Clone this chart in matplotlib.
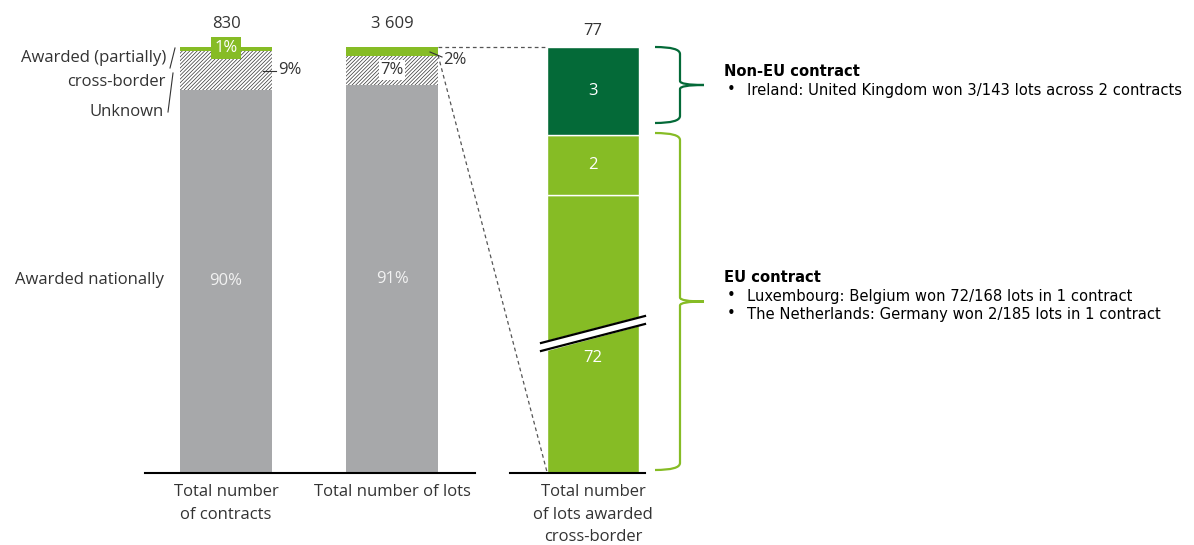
import numpy as np
import matplotlib.pyplot as plt
import matplotlib.transforms as mtransforms
from matplotlib.path import Path
from matplotlib.patches import PathPatch

# data
totals = ["830", "3 609"]
national = [90, 91]
unknown = [9, 7]
cross = [1, 2]
xb_values = [72, 2, 3]          # lots awarded cross-border, bottom to top
xb_total = "77"
xlabels = ["Total number\nof contracts", "Total number of lots"]
xlabel3 = "Total number\nof lots awarded\ncross-border"

GRAY = "#A7A8AA"
LGREEN = "#86BC25"
DGREEN = "#046A38"
TXT = "#333333"
FS = 12

W, H = 1194, 545
plt.rcParams["font.family"] = ["Open Sans", "DejaVu Sans"]
plt.rcParams["hatch.linewidth"] = 0.5
fig = plt.figure(figsize=(W / 100, H / 100), dpi=100)

# pixel coords, y going down
pix = mtransforms.Affine2D().scale(1 / W, -1 / H).translate(0, 1) + fig.transFigure


def axrect(x0, x1, ytop, ybot):
    return [x0 / W, (H - ybot) / H, (x1 - x0) / W, (ybot - ytop) / H]


# left panel: contracts and lots (percent)
ax1 = fig.add_axes(axrect(145, 475, 47, 473))
x = np.array([0, 1])
bw = 0.554
ax1.bar(x, national, bw, color=GRAY, linewidth=0)
ax1.bar(x, unknown, bw, bottom=national, color="white", edgecolor="#333333",
        linewidth=0, hatch="/////////")
ax1.bar(x, cross, bw, bottom=np.add(national, unknown), color=LGREEN, linewidth=0)
ax1.set_xlim(-0.488, 1.5)
ax1.set_ylim(0, 100)
ax1.axis("off")

for i in range(2):
    ax1.text(x[i], national[i] / 2, f"{national[i]}%", ha="center", va="center",
             color="#F2F2F2", fontsize=FS)
    ax1.text(x[i], 100 + 3.6, totals[i], ha="center", va="bottom", color=TXT,
             fontsize=FS, clip_on=False)

# right panel: broken scale for cross-border lots
knots_v = [0, 72, 74, 77]
knots_d = [0, 278, 338, 426]
ax2 = fig.add_axes(axrect(510, 645, 47, 473))
ax2.set_yscale("function", functions=(lambda v: np.interp(v, knots_v, knots_d),
                                      lambda d: np.interp(d, knots_d, knots_v)))
bottoms = np.concatenate([[0], np.cumsum(xb_values)[:-1]])
cols = [LGREEN, LGREEN, DGREEN]
ax2.bar([0] * 3, xb_values, 1, bottom=bottoms, color=cols, edgecolor="white",
        linewidth=1)
ax2.set_xlim(-0.902, 0.565)
ax2.set_ylim(0, sum(xb_values))
ax2.axis("off")
label_y = [358, 165, 91]
for v, ly in zip(xb_values, label_y):
    fig.text(593 / W, 1 - ly / H, str(v), ha="center", va="center",
             color="white", fontsize=FS)
fig.text(593 / W, 1 - 31 / H, xb_total, ha="center", va="center", color=TXT,
         fontsize=FS)

# baselines
fig.add_artist(plt.Line2D([145, 475], [473, 473], color="black", lw=1.5, transform=pix))
fig.add_artist(plt.Line2D([510, 645], [473, 473], color="black", lw=1.5, transform=pix))

# break marks
fig.add_artist(plt.Polygon([[541, 343], [645, 316], [645, 324], [541, 352]],
                           closed=True, color="white", transform=pix, zorder=4))
for dy in (0, 8):
    fig.add_artist(plt.Line2D([541, 645], [343 + dy, 316 + dy],
                              color="black", lw=1.6, transform=pix, zorder=5))

# dotted connectors
fig.add_artist(plt.Line2D([438, 547], [47, 47], color="#555555", lw=0.9,
                          ls=(0, (3, 2.5)), transform=pix))
fig.add_artist(plt.Line2D([438, 547], [55, 472], color="#555555", lw=0.9,
                          ls=(0, (3, 2.5)), transform=pix))


# annotations left
def t(xp, yp, s, **kw):
    kw.setdefault("fontsize", FS)
    kw.setdefault("color", TXT)
    fig.text(xp / W, 1 - yp / H, s, **kw)


t(226, 48, "1%", ha="center", va="center", color="white",
  bbox=dict(boxstyle="square,pad=0.2", fc=LGREEN, ec="none"))
t(278, 70, "9%", ha="left", va="center")
fig.add_artist(plt.Line2D([263, 276], [71, 71], color=TXT, lw=0.8, transform=pix))
t(392, 70, "7%", ha="center", va="center",
  bbox=dict(boxstyle="square,pad=0.1", fc="white", ec="none"))
t(443, 60, "2%", ha="left", va="center")
fig.add_artist(plt.Line2D([430, 442], [52, 57], color=TXT, lw=0.8, transform=pix))

t(166, 58, "Awarded (partially)", ha="right", va="center")
t(166, 82, "cross-border", ha="right", va="center")
t(164, 112, "Unknown", ha="right", va="center")
fig.add_artist(plt.Line2D([175, 170], [48, 68], color=TXT, lw=0.8, transform=pix))
fig.add_artist(plt.Line2D([173, 168], [73, 112], color=TXT, lw=0.8, transform=pix))
t(164, 280, "Awarded nationally", ha="right", va="center")

t(226, 484, xlabels[0], ha="center", va="top", linespacing=1.55)
t(392, 484, xlabels[1], ha="center", va="top")
t(593, 484, xlabel3, ha="center", va="top", linespacing=1.55)


# braces
def brace(y0, y1, color):
    xm, xe, xt = 655, 680, 704
    ym = (y0 + y1) / 2
    verts = [(xm, y0), (xe, y0), (xe, y0 + 7), (xe, ym - 4), (xe, ym), (xt, ym),
             (xe, ym), (xe, ym + 4), (xe, y1 - 7), (xe, y1), (xm, y1)]
    codes = [Path.MOVETO, Path.CURVE3, Path.CURVE3, Path.LINETO, Path.CURVE3,
             Path.CURVE3, Path.CURVE3, Path.CURVE3, Path.LINETO, Path.CURVE3,
             Path.CURVE3]
    fig.add_artist(PathPatch(Path(verts, codes), fc="none", ec=color, lw=1.6,
                             transform=pix))


brace(47, 123, DGREEN)
brace(133, 470, LGREEN)

# right notes
rk = dict(family="DejaVu Sans", fontsize=10.6, color="black")
t(724, 72, "Non-EU contract", va="center", fontweight="bold", **rk)
t(727, 90, "•", va="center", **rk)
t(747, 90, "Ireland: United Kingdom won 3/143 lots across 2 contracts", va="center", **rk)
t(724, 277, "EU contract", va="center", fontweight="bold", **rk)
t(727, 296, "•", va="center", **rk)
t(747, 296, "Luxembourg: Belgium won 72/168 lots in 1 contract", va="center", **rk)
t(727, 314, "•", va="center", **rk)
t(747, 314, "The Netherlands: Germany won 2/185 lots in 1 contract", va="center", **rk)

fig.savefig("out.png", dpi=100)
